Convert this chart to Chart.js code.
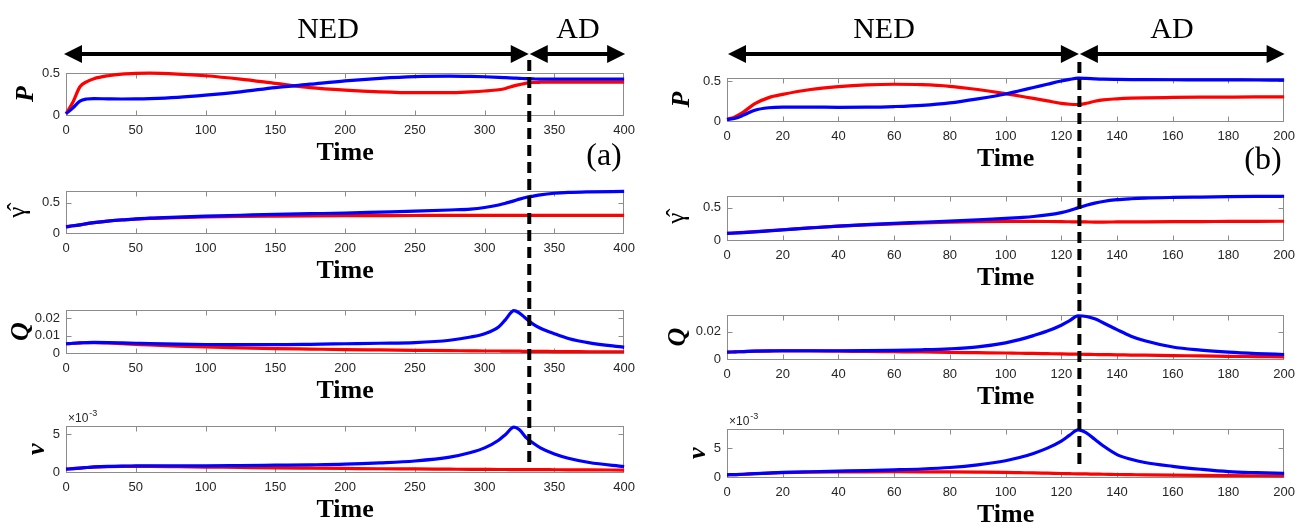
<!DOCTYPE html>
<html><head><meta charset="utf-8">
<script src="https://cdn.jsdelivr.net/npm/chart.js@4.4.1/dist/chart.umd.min.js"></script>
<style>
html,body{margin:0;padding:0;background:#fff;width:1299px;height:522px;overflow:hidden;position:relative}
canvas{position:absolute}
</style></head><body>
<canvas id="overlay" width="1299" height="522" style="left:0;top:0;z-index:10;pointer-events:none"></canvas>
<script>
// ---------- DATA: panel (a) ----------
const tA = [0,5,10,15,20,30,40,50,60,80,100,125,150,175,200,225,250,275,290,300,310,315,321,325,330,335,340,350,360,375,400];
const pA_red  = [0.02,0.16,0.34,0.40,0.435,0.47,0.49,0.498,0.5,0.49,0.47,0.43,0.38,0.33,0.30,0.28,0.27,0.27,0.28,0.29,0.305,0.32,0.35,0.365,0.382,0.39,0.393,0.395,0.395,0.395,0.395];
const pA_blue = [0.02,0.09,0.17,0.195,0.2,0.197,0.195,0.196,0.2,0.215,0.24,0.28,0.33,0.37,0.41,0.44,0.46,0.465,0.462,0.458,0.452,0.448,0.443,0.44,0.435,0.432,0.43,0.43,0.43,0.43,0.43];
const gA_red  = [0.11,0.125,0.14,0.16,0.175,0.2,0.218,0.232,0.243,0.258,0.268,0.276,0.281,0.285,0.288,0.29,0.291,0.292,0.292,0.292,0.292,0.292,0.292,0.292,0.292,0.292,0.292,0.292,0.292,0.292,0.292];
const gA_blue = [0.105,0.125,0.14,0.16,0.175,0.2,0.22,0.235,0.248,0.265,0.28,0.295,0.31,0.32,0.33,0.345,0.36,0.38,0.395,0.42,0.46,0.49,0.527,0.555,0.585,0.605,0.625,0.65,0.663,0.672,0.68];
const qA_red  = [0.0055,0.0058,0.006,0.0061,0.0062,0.006,0.0056,0.0052,0.0048,0.0042,0.0037,0.0032,0.0028,0.0025,0.0022,0.002,0.0018,0.0016,0.0015,0.0014,0.0014,0.0013,0.0013,0.0013,0.0012,0.0012,0.0012,0.0011,0.0011,0.001,0.001];
const qA_blue = [0.0055,0.0058,0.006,0.0062,0.0063,0.0062,0.006,0.0058,0.0056,0.0053,0.0051,0.005,0.005,0.0052,0.0055,0.0058,0.0062,0.0075,0.0093,0.0112,0.015,0.0192,0.0242,0.0228,0.0195,0.0165,0.0143,0.0112,0.0085,0.006,0.0035];
// v values in units of 1e-3
const vA_red  = [0.43,0.5,0.58,0.65,0.7,0.77,0.8,0.8,0.79,0.75,0.71,0.66,0.61,0.57,0.53,0.49,0.46,0.43,0.41,0.4,0.39,0.39,0.38,0.38,0.38,0.37,0.37,0.36,0.35,0.34,0.32];
const vA_blue = [0.43,0.5,0.58,0.65,0.72,0.8,0.84,0.85,0.86,0.86,0.86,0.9,0.95,1.0,1.08,1.25,1.5,2.0,2.6,3.2,4.2,4.95,5.9,5.55,4.5,3.8,3.2,2.4,1.85,1.3,0.78];
const switchA = 332;

// ---------- DATA: panel (b) ----------
const tB = [0,3,6,10,15,20,30,40,50,60,70,80,90,100,105,110,115,120,123,126,129,132,135,140,145,150,160,170,180,190,200];
const pB_red  = [0.025,0.06,0.12,0.22,0.295,0.335,0.395,0.43,0.452,0.46,0.455,0.435,0.395,0.345,0.315,0.285,0.255,0.225,0.213,0.21,0.225,0.25,0.268,0.28,0.288,0.293,0.297,0.3,0.302,0.304,0.305];
const pB_blue = [0.025,0.04,0.08,0.14,0.17,0.178,0.178,0.175,0.177,0.185,0.2,0.23,0.28,0.34,0.38,0.42,0.46,0.5,0.52,0.535,0.532,0.527,0.523,0.52,0.518,0.517,0.516,0.515,0.514,0.513,0.512];
const gB_red  = [0.11,0.117,0.124,0.135,0.15,0.165,0.195,0.22,0.24,0.256,0.27,0.28,0.287,0.291,0.292,0.292,0.291,0.289,0.287,0.285,0.284,0.283,0.283,0.284,0.285,0.286,0.288,0.29,0.292,0.294,0.295];
const gB_blue = [0.108,0.115,0.122,0.133,0.148,0.162,0.192,0.22,0.243,0.263,0.28,0.298,0.317,0.338,0.352,0.368,0.392,0.428,0.46,0.5,0.54,0.573,0.598,0.625,0.64,0.65,0.66,0.666,0.671,0.675,0.678];
const qB_red  = [0.0053,0.0055,0.0057,0.006,0.0061,0.0062,0.0062,0.006,0.0058,0.0056,0.0054,0.0051,0.0049,0.0047,0.0045,0.0044,0.0042,0.004,0.0039,0.0038,0.0037,0.0036,0.0035,0.0034,0.0032,0.0031,0.0028,0.0026,0.0023,0.0021,0.0019];
const qB_blue = [0.0053,0.0055,0.0057,0.006,0.0062,0.0063,0.0063,0.0063,0.0064,0.0066,0.007,0.0077,0.0091,0.012,0.0143,0.0172,0.0205,0.0247,0.028,0.0315,0.031,0.0293,0.0265,0.0215,0.0168,0.0135,0.009,0.0068,0.0053,0.0043,0.0036];
const vB_red  = [0.46,0.5,0.55,0.64,0.74,0.82,0.9,0.95,0.97,0.98,0.97,0.95,0.91,0.86,0.82,0.78,0.73,0.68,0.65,0.62,0.6,0.57,0.55,0.51,0.48,0.45,0.4,0.36,0.33,0.3,0.28];
const vB_blue = [0.46,0.5,0.55,0.65,0.76,0.86,0.98,1.08,1.18,1.3,1.45,1.7,2.15,2.85,3.4,4.1,5.0,6.2,7.2,8.1,7.6,6.5,5.4,3.9,3.1,2.55,1.9,1.4,1.0,0.82,0.7];
const switchB = 126.5;

// ---------- TICKS ----------
const xTicksA = [0,50,100,150,200,250,300,350,400];
const xTicksB = [0,20,40,60,80,100,120,140,160,180,200];
const yTicksP = [0,0.5];
const yTicksG = [0,0.5];
const yTicksQA = [0,0.01,0.02];
const yTicksQB = [0,0.02];
const yTicksV = [0,5];

const labelsTop = ['NED','AD'];
const panelTags = ['(a)','(b)'];
const yTitles = ['P','\u03B3\u0302','Q','v'];

// ---------- Layout ----------
Chart.defaults.font.family = "'Liberation Sans', Arial, sans-serif";
const X_H = 50.5;
const boldItal = {family:"'Liberation Serif', serif", style:'italic', weight:'bold', size:26, lineHeight:1};
const gamFont = {family:"'Liberation Serif', serif", size:25, lineHeight:1};

const boxPlugin = {
  id:'mbox',
  beforeDatasetsDraw(chart){
    const {ctx, chartArea:a, scales:{x,y}} = chart;
    ctx.save();
    ctx.strokeStyle = '#8c8c8c'; ctx.lineWidth = 1;
    const L = Math.round(a.left)+0.5, R = Math.round(a.right)-0.5, T = Math.round(a.top)+0.5, B = Math.round(a.bottom)-0.5;
    ctx.strokeRect(L, T, R-L, B-T);
    ctx.beginPath();
    x.ticks.forEach(t=>{
      const px = Math.round(x.getPixelForValue(t.value))+0.5;
      if (px<=L+1 || px>=R-1) return;
      ctx.moveTo(px,B); ctx.lineTo(px,B-5);
      ctx.moveTo(px,T); ctx.lineTo(px,T+5);
    });
    y.ticks.forEach(t=>{
      const py = Math.round(y.getPixelForValue(t.value))+0.5;
      if (py<=T+1 || py>=B-1) return;
      ctx.moveTo(L,py); ctx.lineTo(L+5,py);
      ctx.moveTo(R,py); ctx.lineTo(R-5,py);
    });
    ctx.stroke();
    ctx.restore();
  },
  afterDraw(chart, args, opts){
    if (!opts.exp) return;
    const {ctx, chartArea:a} = chart;
    ctx.save();
    ctx.fillStyle = '#262626';
    ctx.textBaseline = 'alphabetic';
    ctx.font = "12px 'Liberation Sans', sans-serif";
    ctx.fillText('\u00D710', a.left+2, a.top-4);
    const w = ctx.measureText('\u00D710').width;
    ctx.font = "9px 'Liberation Sans', sans-serif";
    ctx.fillText('-3', a.left+2+w+1, a.top-10);
    ctx.restore();
  }
};

const charts = {};
function makePanel(key, cfg){
  const colLeft = cfg.colLeft;
  const padTop = cfg.exp ? 24 : 10;
  const padRight = 14;
  const boxW = cfg.box.r - cfg.box.l, boxH = cfg.box.b - cfg.box.t;
  const cw = Math.round(cfg.box.l - colLeft + boxW + padRight);
  const ch = Math.round(padTop + boxH + X_H);
  const padLeft = cfg.titleX - colLeft - cfg.titleFont.size/2;
  const yW = (cfg.box.l - colLeft) - padLeft;
  const cv = document.createElement('canvas');
  cv.width = cw; cv.height = ch;
  cv.style.left = colLeft+'px'; cv.style.top = (cfg.box.t - padTop)+'px';
  document.body.appendChild(cv);
  const mk = (vals) => cfg.t.map((x,i)=>({x, y: vals[i]}));
  const chart = new Chart(cv.getContext('2d'), {
    type:'line',
    data:{datasets:[
      {data: mk(cfg.blue), borderColor:'#0000ff', borderWidth:3.2, pointRadius:0, cubicInterpolationMode:'monotone', fill:false, clip:6},
      {data: mk(cfg.red),  borderColor:'#ff0000', borderWidth:3.2, pointRadius:0, cubicInterpolationMode:'monotone', fill:false, clip:6}
    ]},
    options:{
      responsive:false, animation:false, devicePixelRatio:1,
      layout:{padding:{left:padLeft, top:padTop, right:padRight, bottom:0}},
      plugins:{legend:{display:false}, tooltip:{enabled:false}, mbox:{exp:!!cfg.exp}},
      scales:{
        x:{type:'linear', min:0, max:cfg.xMax,
           afterBuildTicks:s=>{s.ticks = cfg.xTicks.map(v=>({value:v}));},
           afterFit:s=>{s.height = X_H;},
           grid:{display:false, drawTicks:false}, border:{display:false},
           ticks:{padding:7, autoSkip:false, maxRotation:0, minRotation:0, color:'#262626', font:{size:13}, callback:v=>String(v)},
           title:{display:true, text:'Time', color:'#000', padding:0,
                  font:{family:"'Liberation Serif', serif", weight:'bold', size:26, lineHeight:1}}},
        y:{type:'linear', min:0, max:cfg.yMax,
           afterBuildTicks:s=>{s.ticks = cfg.yTicks.map(v=>({value:v}));},
           afterFit:s=>{s.width = yW;},
           grid:{display:false, drawTicks:false}, border:{display:false},
           ticks:{padding:6, autoSkip:false, color:'#262626', font:{size:13}, callback:v=>String(v)},
           title:{display:true, text:cfg.yTitle, color:'#000', padding:0, font:cfg.titleFont}}
      }
    },
    plugins:[boxPlugin]
  });
  charts[key] = {chart, colLeft};
}

const colA = {colLeft:0, t:tA, xMax:400, xTicks:xTicksA};
const colB = {colLeft:650, t:tB, xMax:200, xTicks:xTicksB};
const LA = 66, RA = 627.5, LB = 727, RB = 1287.5;

makePanel('pA', {...colA, red:pA_red, blue:pA_blue, yMax:0.505, yTicks:yTicksP, yTitle:yTitles[0], titleFont:boldItal, titleX:26.5, box:{l:LA,r:RA,t:69,b:115}});
makePanel('gA', {...colA, red:gA_red, blue:gA_blue, yMax:0.69, yTicks:yTicksG, yTitle:yTitles[1], titleFont:gamFont, titleX:18.5, box:{l:LA,r:RA,t:187,b:233.5}});
makePanel('qA', {...colA, red:qA_red, blue:qA_blue, yMax:0.0247, yTicks:yTicksQA, yTitle:yTitles[2], titleFont:boldItal, titleX:21, box:{l:LA,r:RA,t:306,b:353}});
makePanel('vA', {...colA, red:vA_red, blue:vA_blue, yMax:6.05, yTicks:yTicksV, yTitle:yTitles[3], titleFont:boldItal, titleX:37, exp:true, box:{l:LA,r:RA,t:426,b:472}});

makePanel('pB', {...colB, red:pB_red, blue:pB_blue, yMax:0.54, yTicks:yTicksP, yTitle:yTitles[0], titleFont:boldItal, titleX:682, box:{l:LB,r:RB,t:74,b:121}});
makePanel('gB', {...colB, red:gB_red, blue:gB_blue, yMax:0.685, yTicks:yTicksG, yTitle:yTitles[1], titleFont:gamFont, titleX:677, box:{l:LB,r:RB,t:192,b:240}});
makePanel('qB', {...colB, red:qB_red, blue:qB_blue, yMax:0.0322, yTicks:yTicksQB, yTitle:yTitles[2], titleFont:boldItal, titleX:678, box:{l:LB,r:RB,t:311,b:359}});
makePanel('vB', {...colB, red:vB_red, blue:vB_blue, yMax:8.25, yTicks:yTicksV, yTitle:yTitles[3], titleFont:boldItal, titleX:698, exp:true, box:{l:LB,r:RB,t:429,b:477}});

// ---------- Overlay: arrows, phase labels, switch lines ----------
function dArrow(ctx, x1, x2, y){
  const L = 18, H = 9;
  ctx.lineWidth = 4; ctx.strokeStyle = '#000'; ctx.fillStyle = '#000';
  ctx.beginPath(); ctx.moveTo(x1+L-2, y); ctx.lineTo(x2-L+2, y); ctx.stroke();
  ctx.beginPath(); ctx.moveTo(x1, y); ctx.lineTo(x1+L, y-H); ctx.lineTo(x1+L, y+H); ctx.closePath(); ctx.fill();
  ctx.beginPath(); ctx.moveTo(x2, y); ctx.lineTo(x2-L, y-H); ctx.lineTo(x2-L, y+H); ctx.closePath(); ctx.fill();
}
function drawOverlay(){
  const cv = document.getElementById('overlay');
  const ctx = cv.getContext('2d');
  ctx.clearRect(0,0,cv.width,cv.height);
  const cols = [
    {c:charts.pA, sw:switchA, xMax:400, y:54, lOff:-2, rOff:1, dTop:60, dBot:467, ned:328, ad:578, tag:panelTags[0], tagX:604, tagY:165},
    {c:charts.pB, sw:switchB, xMax:200, y:54, lOff:1, rOff:0.5, dTop:62, dBot:467, ned:884, ad:1172, tag:panelTags[1], tagX:1263, tagY:169}
  ];
  cols.forEach(o=>{
    const xs = o.c.chart.scales.x, off = o.c.colLeft;
    const x0 = off + xs.getPixelForValue(0) + o.lOff;
    const x1 = off + xs.getPixelForValue(o.xMax) + o.rOff;
    const xm = off + xs.getPixelForValue(o.sw);
    dArrow(ctx, x0, xm-0.5, o.y);
    dArrow(ctx, xm+0.5, x1, o.y);
    ctx.save();
    ctx.strokeStyle = '#000'; ctx.lineWidth = 4; ctx.setLineDash([11,6]);
    ctx.beginPath(); ctx.moveTo(xm, o.dTop); ctx.lineTo(xm, o.dBot); ctx.stroke();
    ctx.restore();
    ctx.fillStyle = '#000';
    ctx.font = "30px 'Liberation Serif', serif";
    ctx.textAlign = 'center'; ctx.textBaseline = 'alphabetic';
    ctx.fillText(labelsTop[0], o.ned, 38);
    ctx.fillText(labelsTop[1], o.ad, 38);
    ctx.font = "32px 'Liberation Serif', serif";
    ctx.fillText(o.tag, o.tagX, o.tagY);
  });
}
drawOverlay();
</script>
</body></html>
